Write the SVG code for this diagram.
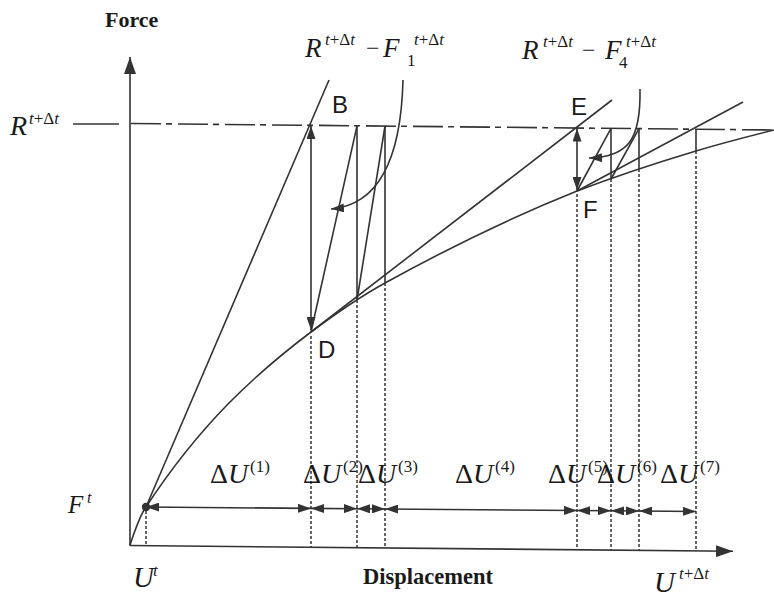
<svg xmlns="http://www.w3.org/2000/svg" width="774" height="598" viewBox="0 0 774 598">
<defs>
<style>
.ln{fill:none;stroke:#333;stroke-width:1.6}
.dot{fill:none;stroke:#333;stroke-width:1.5;stroke-dasharray:3 2}
.dash{fill:none;stroke:#333;stroke-width:1.6;stroke-dasharray:30 5 6 6}
.arr{fill:none;stroke:#333;stroke-width:1.6;marker-start:url(#ah);marker-end:url(#ah)}
.serif{font-family:"Liberation Serif","Times New Roman",serif;fill:#1a1a1a}
.it{font-style:italic}
.sans{font-family:"Liberation Sans",Arial,sans-serif;fill:#1a1a1a}
.bold{font-weight:bold}
</style>
<marker id="ah" viewBox="0 0 13 9" refX="13" refY="4.5" markerWidth="13" markerHeight="9" markerUnits="userSpaceOnUse" orient="auto-start-reverse">
<path d="M0,0 L13,4.5 L0,9 z" fill="#333"/>
</marker>
<marker id="axh" viewBox="0 0 17 12" refX="17" refY="6" markerWidth="17" markerHeight="12" markerUnits="userSpaceOnUse" orient="auto">
<path d="M0,0 L17,6 L0,12 z" fill="#333"/>
</marker>
</defs>
<rect width="774" height="598" fill="#fff"/>

<g id="axes">
<line class="ln" x1="130" y1="546" x2="130" y2="57" marker-end="url(#axh)"/>
<line class="ln" x1="130" y1="545.5" x2="733" y2="551.3" marker-end="url(#axh)"/>
<line class="ln" x1="73" y1="124" x2="119" y2="124"/>
<line class="dash" x1="131" y1="123.5" x2="774" y2="130"/>
</g>

<g id="curves">
<path id="response" class="ln" d="M130,545 C135.3,529 140.7,514 146,507 C201,423 256,373.5 311,332 C335.6,313.7 360.7,296.4 385,283 C449,247.8 513,216.6 577,191 C616.7,175.9 656.3,162.9 696,151 C722,143.2 748,136.5 774,130"/>
<line id="K1" class="ln" x1="146" y1="507" x2="329" y2="80"/>
<line id="K2" class="ln" x1="311" y1="332" x2="612" y2="100"/>
<line id="K3" class="ln" x1="577" y1="191" x2="743" y2="102"/>
<circle cx="146" cy="507" r="4.2" fill="#333"/>
</g>

<g id="connectors">
<line class="arr" x1="311" y1="330" x2="311" y2="126"/>
<line class="ln" x1="311" y1="332" x2="357" y2="125.8"/>
<line class="ln" x1="357" y1="125.8" x2="357" y2="300"/>
<line class="ln" x1="357" y1="300" x2="385" y2="126"/>
<line class="ln" x1="385" y1="126" x2="385" y2="283"/>
<path class="ln" d="M403,80 C401,160 378,205 331,209" marker-end="url(#ah)"/>

<line class="arr" x1="577" y1="190" x2="577" y2="128.5"/>
<line class="ln" x1="577" y1="191" x2="611" y2="128.3"/>
<line class="ln" x1="611" y1="128.3" x2="611" y2="179"/>
<line class="ln" x1="611" y1="179" x2="639" y2="128.6"/>
<line class="ln" x1="639" y1="128.6" x2="639" y2="169"/>
<line class="ln" x1="696" y1="129.2" x2="696" y2="151"/>
<path class="ln" d="M640,89 C641,140 628,157 589,158" marker-end="url(#ah)"/>

<line class="dot" x1="146" y1="511" x2="146" y2="545.7"/>
<line class="dot" x1="311" y1="336" x2="311" y2="547.3"/>
<line class="dot" x1="357" y1="300" x2="357" y2="547.7"/>
<line class="dot" x1="385" y1="283" x2="385" y2="548"/>
<line class="dot" x1="577" y1="194" x2="577" y2="549.8"/>
<line class="dot" x1="611" y1="179" x2="611" y2="550.2"/>
<line class="dot" x1="639" y1="169" x2="639" y2="550.4"/>
<line class="dot" x1="696" y1="151" x2="696" y2="551"/>

<line class="arr" x1="146" y1="507" x2="311" y2="508.4"/>
<line class="arr" x1="311" y1="508.4" x2="357" y2="508.7"/>
<line class="arr" x1="357" y1="508.7" x2="385" y2="509"/>
<line class="arr" x1="385" y1="509" x2="577" y2="510.5"/>
<line class="arr" x1="577" y1="510.5" x2="611" y2="510.8"/>
<line class="arr" x1="611" y1="510.8" x2="639" y2="511"/>
<line class="arr" x1="639" y1="511" x2="696" y2="511.5"/>
</g>

<g id="labels">
<text class="serif bold" x="105" y="27" font-size="22">Force</text>
<text class="serif bold" x="363" y="584" font-size="22.5">Displacement</text>

<text class="serif" font-size="28"><tspan class="it" x="10" y="135">R</tspan><tspan font-size="17" x="29" y="124"><tspan class="it">t</tspan>+Δ<tspan class="it">t</tspan></tspan></text>

<text class="serif" font-size="27"><tspan class="it" x="305" y="57">R</tspan><tspan font-size="17" x="325" y="45"><tspan class="it">t</tspan>+Δ<tspan class="it">t</tspan></tspan><tspan font-size="24" x="366" y="56">−</tspan><tspan class="it" x="383" y="57">F</tspan><tspan font-size="17" x="407" y="66">1</tspan><tspan font-size="17" x="414" y="45"><tspan class="it">t</tspan>+Δ<tspan class="it">t</tspan></tspan></text>

<text class="serif" font-size="27"><tspan class="it" x="522" y="59">R</tspan><tspan font-size="17" x="543" y="47"><tspan class="it">t</tspan>+Δ<tspan class="it">t</tspan></tspan><tspan font-size="24" x="582" y="58">−</tspan><tspan class="it" x="605" y="59">F</tspan><tspan font-size="17" x="619" y="68">4</tspan><tspan font-size="17" x="626" y="47"><tspan class="it">t</tspan>+Δ<tspan class="it">t</tspan></tspan></text>

<text class="serif" font-size="25"><tspan class="it" x="68" y="513">F</tspan><tspan class="it" font-size="16" x="87" y="503">t</tspan></text>
<text class="serif" font-size="29"><tspan class="it" x="133" y="587">U</tspan><tspan class="it" font-size="17" x="153" y="576">t</tspan></text>
<text class="serif" font-size="29"><tspan class="it" x="654" y="592">U</tspan><tspan font-size="17" x="679" y="579"><tspan class="it">t</tspan>+Δ<tspan class="it">t</tspan></tspan></text>

<g class="serif" font-size="28">
<text x="210" y="483">Δ<tspan class="it">U</tspan><tspan font-size="17" x="250" y="472">(1)</tspan></text>
<text x="303" y="483">Δ<tspan class="it">U</tspan><tspan font-size="17" x="343" y="472">(2)</tspan></text>
<text x="358" y="483">Δ<tspan class="it">U</tspan><tspan font-size="17" x="398" y="472">(3)</tspan></text>
<text x="455" y="483">Δ<tspan class="it">U</tspan><tspan font-size="17" x="495" y="472">(4)</tspan></text>
<text x="548" y="483">Δ<tspan class="it">U</tspan><tspan font-size="17" x="588" y="472">(5)</tspan></text>
<text x="597" y="483">Δ<tspan class="it">U</tspan><tspan font-size="17" x="637" y="472">(6)</tspan></text>
<text x="660" y="483">Δ<tspan class="it">U</tspan><tspan font-size="17" x="700" y="472">(7)</tspan></text>
</g>

<g class="sans" font-size="24">
<text x="332" y="113">B</text>
<text x="318" y="358">D</text>
<text x="571" y="115">E</text>
<text x="583" y="218">F</text>
</g>
</g>
</svg>
